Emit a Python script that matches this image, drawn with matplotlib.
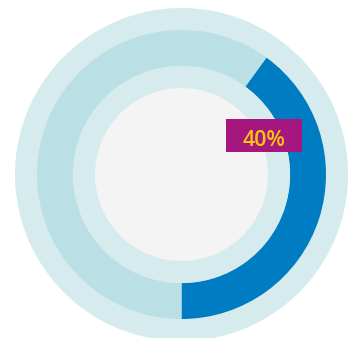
import matplotlib.pyplot as plt
from matplotlib.patches import Circle, Rectangle

# progress ring data
pct = 40
slices = [pct, 100 - pct]
label = f"{pct}%"

blue = "#007DC2"
ring_light = "#BAE0E5"
halo = "#D5EBEE"
core = "#F4F4F4"
tag = "#A5177F"
tag_text = "#F9C80E"

W, H = 350, 338
cx, cy = 181.5, H - 174.5

fig = plt.figure(figsize=(W / 100, H / 100), dpi=100)
ax = fig.add_axes([0, 0, 1, 1])

# outer halo
ax.add_patch(Circle((cx, cy), 166.5, color=halo, lw=0, zorder=0))

# ring: value wedge runs counterclockwise from 6 o'clock
ax.pie(slices, radius=144.5, center=(cx, cy), startangle=-90, counterclock=True,
       colors=[blue, ring_light], wedgeprops=dict(width=36, linewidth=0))

# inner discs
ax.add_patch(Circle((cx, cy), 108.6, color=halo, lw=0, zorder=3))
ax.add_patch(Circle((cx, cy), 86.5, color=core, lw=0, zorder=4))

# value tag
ax.add_patch(Rectangle((226, H - 151.7), 75.7, 32.4, color=tag, lw=0, zorder=5))
ax.text(264, H - 137.5, label, color=tag_text, fontsize=15.5, family="Open Sans",
        fontweight="semibold", ha="center", va="center_baseline", zorder=6)

ax.set_xlim(0, W)
ax.set_ylim(0, H)
ax.set_aspect("equal")
ax.axis("off")

fig.savefig("out.png", dpi=100, facecolor="white")
